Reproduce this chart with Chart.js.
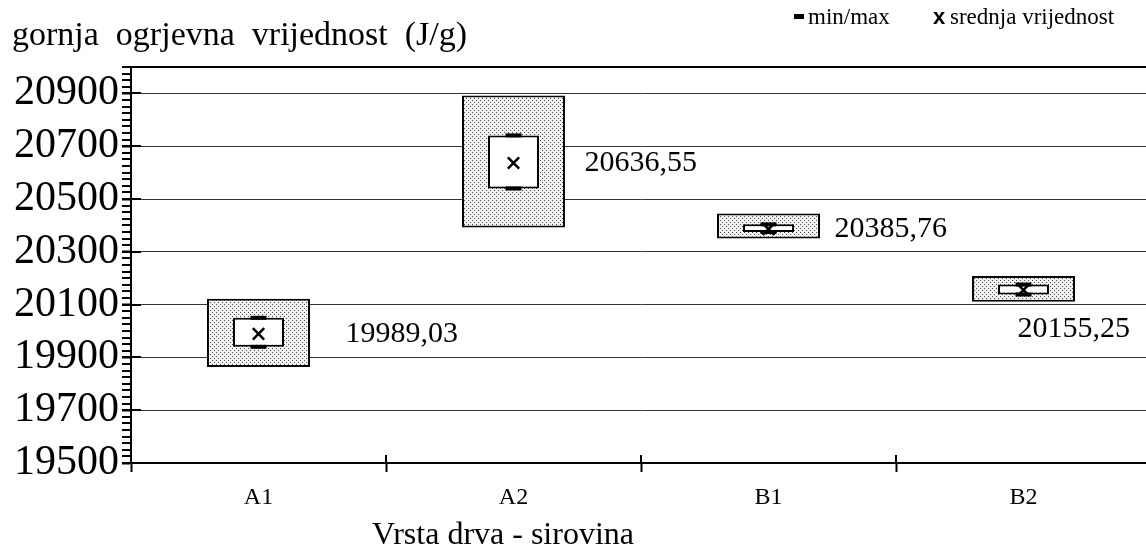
<!DOCTYPE html>
<html>
<head>
<meta charset="utf-8">
<script src="https://cdn.jsdelivr.net/npm/chart.js@4/dist/chart.umd.min.js"></script>
<style>
  html, body { margin: 0; padding: 0; background: #fff; overflow: hidden; }
  #wrap { width: 1163px; height: 549px; }
</style>
</head>
<body>
<div id="wrap"><canvas id="chart" width="1163" height="549"></canvas></div>
<script>
const categories = ['A1', 'A2', 'B1', 'B2'];
const boxLow = [19864, 20392, 20350, 20111];
const boxHigh = [20122, 20892, 20445, 20208];
const minValues = [19940, 20540, 20375, 20138];
const maxValues = [20050, 20741, 20404, 20176];
const meanValues = [19989.03, 20636.55, 20385.76, 20155.25];
const yTickValues = [19500, 19700, 19900, 20100, 20300, 20500, 20700, 20900];

const FONT = '"Liberation Serif", "Times New Roman", serif';

// sitni tockasti uzorak za vanjske pravokutnike
function dotPattern() {
  const c = document.createElement('canvas');
  c.width = 4;
  c.height = 4;
  const g = c.getContext('2d');
  g.fillStyle = '#f2f2f2';
  g.fillRect(0, 0, 4, 4);
  g.fillStyle = '#4a4a4a';
  g.fillRect(0, 0, 1, 1);
  g.fillRect(2, 2, 1, 1);
  return g.createPattern(c, 'repeat');
}

const extras = {
  id: 'extras',
  afterDatasetsDraw(chart) {
    const { ctx, chartArea: a, scales: { x, y } } = chart;
    ctx.save();
    ctx.strokeStyle = '#000';
    ctx.lineWidth = 2;

    // gornji rub
    ctx.beginPath();
    ctx.moveTo(a.left, a.top);
    ctx.lineTo(a.right, a.top);
    ctx.stroke();

    // sitne crtice na y osi
    for (let v = 19500; v <= 21000; v += 25) {
      const py = Math.round(y.getPixelForValue(v));
      ctx.beginPath();
      ctx.moveTo(a.left - 9, py);
      ctx.lineTo(a.left, py);
      ctx.stroke();
    }
    // glavne crtice prelaze os
    for (const v of yTickValues) {
      const py = Math.round(y.getPixelForValue(v));
      ctx.beginPath();
      ctx.moveTo(a.left, py);
      ctx.lineTo(a.left + 10, py);
      ctx.stroke();
    }
    // crtice izmedju kategorija iznad osi
    for (let i = 0; i <= categories.length; i++) {
      const px = Math.round(x.getPixelForValue(i - 0.5));
      ctx.beginPath();
      ctx.moveTo(px, a.bottom);
      ctx.lineTo(px, a.bottom - 8);
      ctx.stroke();
    }

    // oznake srednjih vrijednosti
    const offsets = [[87, 0], [71, 0], [66, 0], [-6, 39]];
    ctx.fillStyle = '#000';
    ctx.font = '30px ' + FONT;
    ctx.textAlign = 'left';
    ctx.textBaseline = 'middle';
    meanValues.forEach((v, i) => {
      const px = x.getPixelForValue(i) + offsets[i][0];
      const py = y.getPixelForValue(v) + offsets[i][1];
      ctx.fillText(v.toFixed(2).replace('.', ','), px, py);
    });

    // naslovi
    ctx.textBaseline = 'alphabetic';
    ctx.font = '34px ' + FONT;
    ctx.fillText('gornja  ogrjevna  vrijednost  (J/g)', 12, 45);
    ctx.font = '32px ' + FONT;
    ctx.fillText('Vrsta drva - sirovina', 372, 544);

    // legenda
    ctx.font = '23px ' + FONT;
    ctx.fillRect(794, 14, 10, 5);
    ctx.fillText('min/max', 808, 24);
    ctx.font = 'bold 22px "Liberation Sans", Arial, sans-serif';
    ctx.fillText('x', 933, 24);
    ctx.font = '23px ' + FONT;
    ctx.fillText('srednja vrijednost', 950, 24);
    ctx.restore();
  }
};

new Chart(document.getElementById('chart'), {
  type: 'bar',
  data: {
    labels: categories,
    datasets: [
      {
        label: 'raspon',
        data: categories.map((c, i) => [boxLow[i], boxHigh[i]]),
        backgroundColor: dotPattern(),
        borderColor: '#000',
        borderWidth: 2,
        borderSkipped: false,
        barPercentage: 0.404,
        categoryPercentage: 1,
        grouped: false,
        order: 5
      },
      {
        label: 'min/max',
        data: categories.map((c, i) => [minValues[i], maxValues[i]]),
        backgroundColor: '#fff',
        borderColor: '#000',
        borderWidth: 2,
        borderSkipped: false,
        barPercentage: 0.2,
        categoryPercentage: 1,
        grouped: false,
        order: 4
      },
      {
        type: 'line',
        label: 'min',
        data: minValues,
        showLine: false,
        pointStyle: 'line',
        pointRadius: 8,
        pointBorderWidth: 4,
        borderColor: '#000',
        order: 3
      },
      {
        type: 'line',
        label: 'max',
        data: maxValues,
        showLine: false,
        pointStyle: 'line',
        pointRadius: 8,
        pointBorderWidth: 4,
        borderColor: '#000',
        order: 2
      },
      {
        type: 'line',
        label: 'srednja vrijednost',
        data: meanValues,
        showLine: false,
        pointStyle: 'crossRot',
        pointRadius: 8,
        pointBorderWidth: 2.5,
        borderColor: '#000',
        order: 1
      }
    ]
  },
  options: {
    responsive: false,
    animation: false,
    devicePixelRatio: 1,
    layout: { padding: { top: 67, left: 0, right: 0, bottom: 0 } },
    plugins: {
      legend: { display: false },
      tooltip: { enabled: false }
    },
    scales: {
      x: {
        offset: true,
        afterFit: s => { s.height = 86; },
        grid: {
          display: true,
          drawOnChartArea: false,
          offset: true,
          tickLength: 9,
          tickColor: '#000',
          tickWidth: 2
        },
        border: { color: '#000', width: 2 },
        ticks: {
          color: '#000',
          padding: 11,
          font: { family: FONT, size: 24 }
        }
      },
      y: {
        min: 19500,
        max: 21000,
        afterFit: s => { s.width = 131; },
        afterBuildTicks: s => { s.ticks = yTickValues.map(v => ({ value: v })); },
        grid: {
          color: '#333',
          lineWidth: 1,
          tickLength: 9,
          tickColor: '#000',
          tickWidth: 2
        },
        border: { color: '#000', width: 2 },
        ticks: {
          color: '#000',
          padding: 3,
          font: { family: FONT, size: 42 },
          callback: v => String(v)
        }
      }
    }
  },
  plugins: [extras]
});
</script>
</body>
</html>
